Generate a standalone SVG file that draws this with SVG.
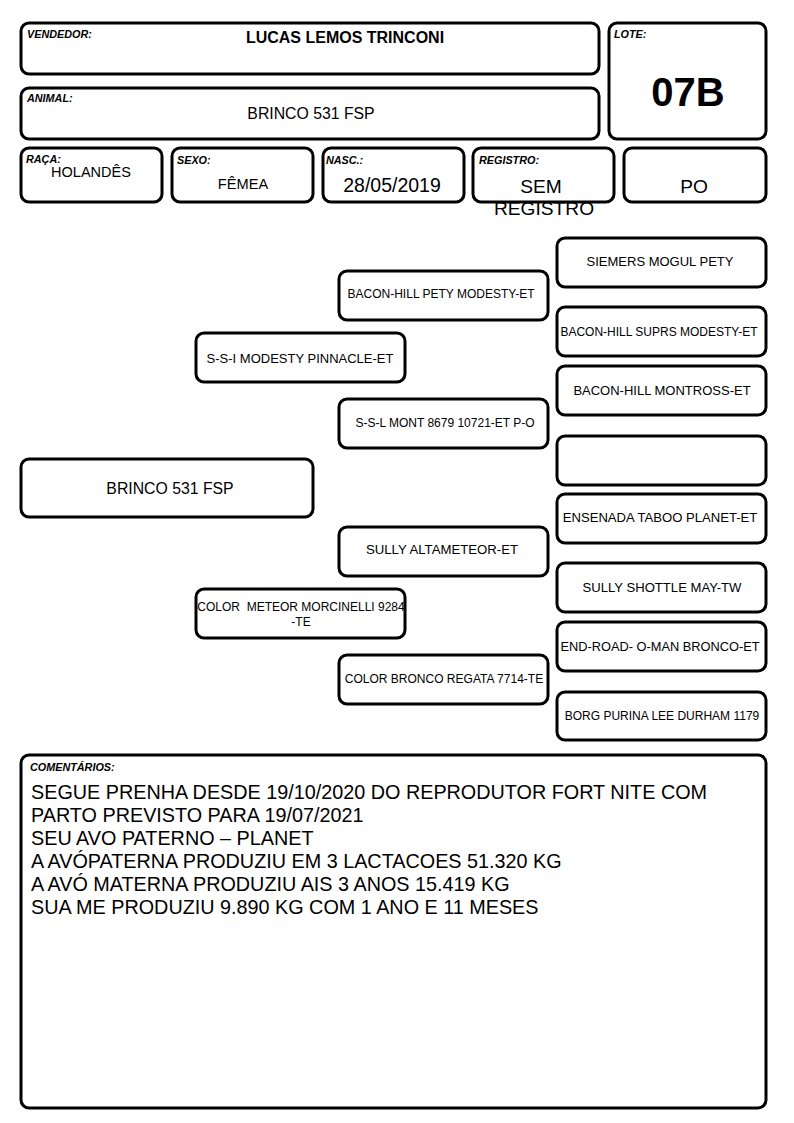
<svg xmlns="http://www.w3.org/2000/svg" width="794" height="1123" viewBox="0 0 794 1123">
<style>
.b{fill:#fff;stroke:#000;stroke-width:3}
.lbl{font-family:"Liberation Sans",Arial,sans-serif;font-size:10.8px;font-weight:bold;font-style:italic;fill:#000}
.t{font-family:"Liberation Sans",Arial,sans-serif;fill:#000;text-anchor:middle;white-space:pre}
.c{font-family:"Liberation Sans",Arial,sans-serif;fill:#000;font-size:19.8px}
</style>
<rect width="794" height="1123" fill="#fff"/>
<g id="vendedor"><rect class="b" x="21" y="23" width="578" height="51" rx="8"/><text class="lbl" x="27" y="38">VENDEDOR:</text><text class="t" x="345" y="43" font-size="16" font-weight="bold">LUCAS LEMOS TRINCONI</text></g>
<g id="animal"><rect class="b" x="21" y="88" width="578" height="51" rx="8"/><text class="lbl" x="27" y="102">ANIMAL:</text><text class="t" x="311" y="119" font-size="15.8">BRINCO 531 FSP</text></g>
<g id="lote"><rect class="b" x="609" y="23" width="157" height="116" rx="8"/><text class="lbl" x="614" y="38">LOTE:</text><text class="t" x="688" y="106" font-size="40" font-weight="bold">07B</text></g>
<g id="raca"><rect class="b" x="21" y="148" width="141" height="54" rx="8"/><text class="lbl" x="26" y="163">RAÇA:</text><text class="t" x="91" y="177" font-size="14.5">HOLANDÊS</text></g>
<g id="sexo"><rect class="b" x="172" y="148" width="141" height="54" rx="8"/><text class="lbl" x="177" y="164">SEXO:</text><text class="t" x="243" y="189" font-size="14.6">FÊMEA</text></g>
<g id="nasc"><rect class="b" x="323" y="148" width="141" height="54" rx="8"/><text class="lbl" x="326" y="164">NASC.:</text><text class="t" x="392" y="192" font-size="19.5">28/05/2019</text></g>
<g id="registro"><rect class="b" x="473" y="148" width="141" height="54" rx="8"/><text class="lbl" x="479" y="164">REGISTRO:</text><text class="t" x="541" y="193" font-size="19.2">SEM</text><text class="t" x="544" y="215" font-size="19.2">REGISTRO</text></g>
<g id="po"><rect class="b" x="624" y="148" width="142" height="54" rx="8"/><text class="t" x="694" y="193" font-size="19.2">PO</text></g>
<g id="connectors"></g>
<g id="p0"><rect class="b" x="21" y="459" width="292" height="58" rx="8"/><text class="t" x="170" y="494" font-size="15.8">BRINCO 531 FSP</text></g>
<g id="p1"><rect class="b" x="196" y="333" width="209" height="49" rx="8"/><text class="t" x="300" y="363" font-size="13">S-S-I MODESTY PINNACLE-ET</text></g>
<g id="p2"><rect class="b" x="196" y="589" width="209" height="49" rx="8"/><text class="t" x="301" y="611" font-size="12">COLOR  METEOR MORCINELLI 9284</text><text class="t" x="301" y="626" font-size="12">-TE</text></g>
<g id="p3"><rect class="b" x="339" y="271" width="209" height="49" rx="8"/><text class="t" x="441" y="298" font-size="12">BACON-HILL PETY MODESTY-ET</text></g>
<g id="p4"><rect class="b" x="339" y="399" width="209" height="49" rx="8"/><text class="t" x="445" y="427" font-size="12">S-S-L MONT 8679 10721-ET P-O</text></g>
<g id="p5"><rect class="b" x="339" y="527" width="209" height="49" rx="8"/><text class="t" x="442" y="554" font-size="13.2">SULLY ALTAMETEOR-ET</text></g>
<g id="p6"><rect class="b" x="339" y="655" width="209" height="49" rx="8"/><text class="t" x="444" y="683" font-size="12">COLOR BRONCO REGATA 7714-TE</text></g>
<g id="p7"><rect class="b" x="557" y="238" width="209" height="49" rx="8"/><text class="t" x="660" y="266" font-size="13">SIEMERS MOGUL PETY</text></g>
<g id="p8"><rect class="b" x="557" y="307" width="209" height="49" rx="8"/><text class="t" x="659" y="336" font-size="12">BACON-HILL SUPRS MODESTY-ET</text></g>
<g id="p9"><rect class="b" x="557" y="366" width="209" height="49" rx="8"/><text class="t" x="662" y="395" font-size="13">BACON-HILL MONTROSS-ET</text></g>
<g id="p10"><rect class="b" x="557" y="436" width="209" height="49" rx="8"/></g>
<g id="p11"><rect class="b" x="557" y="494" width="209" height="49" rx="8"/><text class="t" x="660" y="522" font-size="13.1">ENSENADA TABOO PLANET-ET</text></g>
<g id="p12"><rect class="b" x="557" y="563" width="209" height="49" rx="8"/><text class="t" x="662" y="592" font-size="13.1">SULLY SHOTTLE MAY-TW</text></g>
<g id="p13"><rect class="b" x="557" y="622" width="209" height="49" rx="8"/><text class="t" x="660" y="651" font-size="12.8">END-ROAD- O-MAN BRONCO-ET</text></g>
<g id="p14"><rect class="b" x="557" y="692" width="209" height="48" rx="8"/><text class="t" x="662" y="720" font-size="12">BORG PURINA LEE DURHAM 1179</text></g>
<g id="comentarios"><rect class="b" x="21" y="755" width="745" height="353" rx="8"/><text class="lbl" x="30" y="771" font-size="10.6px">COMENTÁRIOS:</text>
<text class="c" x="31" y="799">SEGUE PRENHA DESDE 19/10/2020 DO REPRODUTOR FORT NITE COM</text>
<text class="c" x="31" y="822">PARTO PREVISTO PARA 19/07/2021</text>
<text class="c" x="31" y="845">SEU AVO PATERNO – PLANET</text>
<text class="c" x="31" y="868">A AVÓPATERNA PRODUZIU EM 3 LACTACOES 51.320 KG</text>
<text class="c" x="31" y="891">A AVÓ MATERNA PRODUZIU AIS 3 ANOS 15.419 KG</text>
<text class="c" x="31" y="914">SUA ME PRODUZIU 9.890 KG COM 1 ANO E 11 MESES</text>
</g>
</svg>
